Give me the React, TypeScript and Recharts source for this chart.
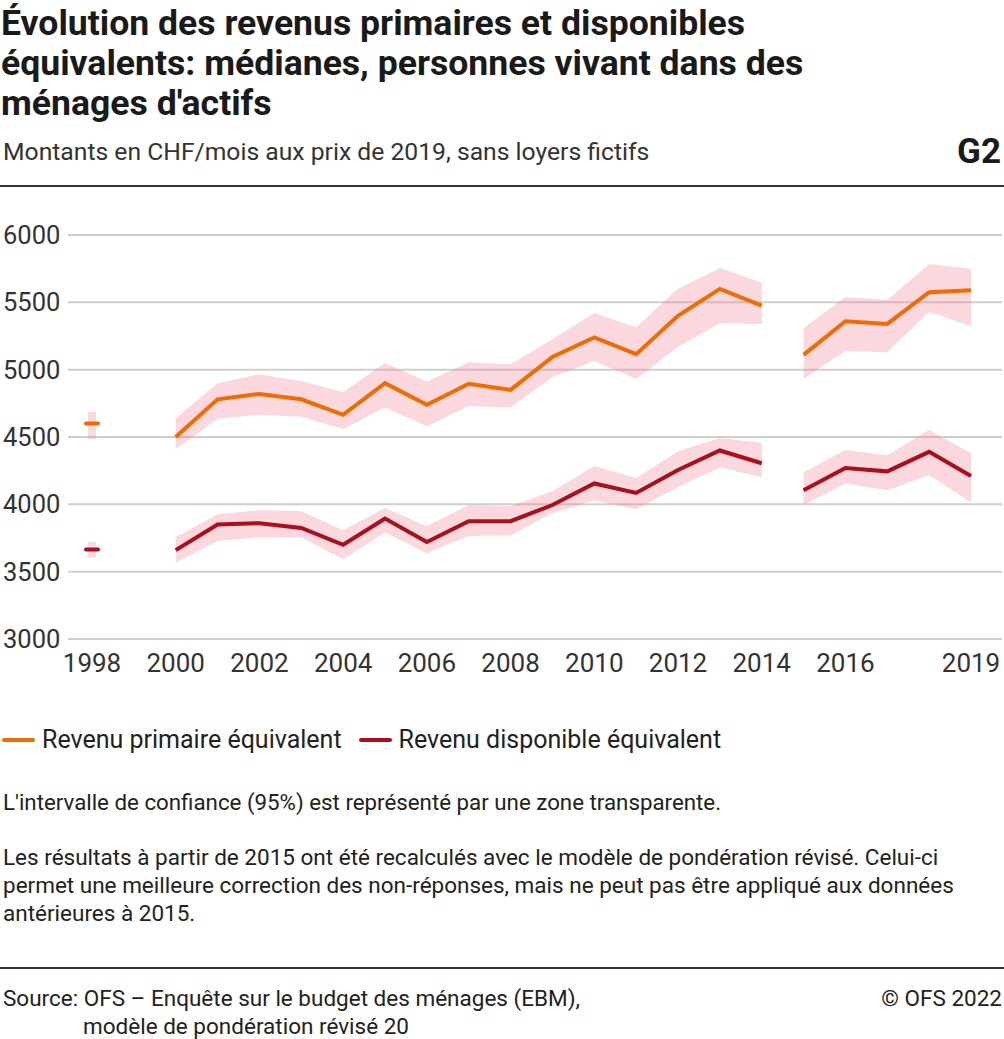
import { ComposedChart, Line, Area, Bar, XAxis, YAxis, CartesianGrid } from "recharts";

const years = [1998, 2000, 2001, 2002, 2003, 2004, 2005, 2006, 2007, 2008, 2009, 2010, 2011, 2012, 2013, 2014, 2015, 2016, 2017, 2018, 2019];

const primaire = [4600, 4500, 4780, 4820, 4780, 4665, 4900, 4740, 4895, 4850, 5095, 5240, 5115, 5400, 5600, 5475, 5110, 5360, 5340, 5575, 5590];
const primaireLow = [4485, 4410, 4635, 4665, 4650, 4560, 4720, 4580, 4730, 4720, 4945, 5065, 4930, 5170, 5345, 5340, 4930, 5140, 5130, 5430, 5325];
const primaireHigh = [4685, 4640, 4900, 4965, 4915, 4835, 5050, 4910, 5055, 5040, 5225, 5420, 5315, 5600, 5755, 5645, 5310, 5540, 5520, 5785, 5750];

const disponible = [3665, 3660, 3850, 3860, 3825, 3700, 3895, 3720, 3875, 3875, 3995, 4155, 4085, 4255, 4400, 4305, 4105, 4270, 4245, 4390, 4210];
const disponibleLow = [3607, 3570, 3728, 3756, 3756, 3593, 3793, 3637, 3764, 3771, 3935, 4031, 3964, 4128, 4276, 4202, 3994, 4157, 4105, 4217, 4016];
const disponibleHigh = [3719, 3756, 3927, 3957, 3949, 3808, 3972, 3838, 3994, 3987, 4098, 4284, 4195, 4395, 4492, 4455, 4239, 4403, 4365, 4552, 4380];

const xTicks = [1998, 2000, 2002, 2004, 2006, 2008, 2010, 2012, 2014, 2016, 2019];
const yTicks = [3000, 3500, 4000, 4500, 5000, 5500, 6000];

// series breaks: 1998 alone, 2000-2014, 2015-2019 (new weighting model)
const segmentOf = (y: number) => (y < 2000 ? 0 : y <= 2014 ? 1 : 2);

const ORANGE = "#ef6c00";
const RED = "#a90f1e";
const BAND = "#ee7d8f";
const FONT = "Roboto, 'Noto Sans', sans-serif";

const data = years.map((year, i) => {
  const s = segmentOf(year);
  const pick = (v: any, k: number) => (s === k ? v : null);
  return {
    year,
    p0: pick(primaire[i], 0),
    p1: pick(primaire[i], 1),
    p2: pick(primaire[i], 2),
    pb0: pick([primaireLow[i], primaireHigh[i]], 0),
    pb1: pick([primaireLow[i], primaireHigh[i]], 1),
    pb2: pick([primaireLow[i], primaireHigh[i]], 2),
    d0: pick(disponible[i], 0),
    d1: pick(disponible[i], 1),
    d2: pick(disponible[i], 2),
    db0: pick([disponibleLow[i], disponibleHigh[i]], 0),
    db1: pick([disponibleLow[i], disponibleHigh[i]], 1),
    db2: pick([disponibleLow[i], disponibleHigh[i]], 2),
  };
});

const dash = (color: string) => (props: any) => {
  const { cx, cy, index } = props;
  if (cx == null || cy == null) return <g key={`d-${index}`} />;
  return (
    <line key={`d-${index}`} x1={cx - 6} x2={cx + 6} y1={cy} y2={cy} stroke={color} strokeWidth={4} strokeLinecap="round" />
  );
};

const YTick = ({ y, payload }: any) => (
  <text x={3} y={y} dy={9} textAnchor="start" fontSize={25.5} fill="#333" fontFamily={FONT}>
    {payload.value}
  </text>
);

const textStyle: React.CSSProperties = { position: "absolute", left: 3, margin: 0, color: "#222", fontFamily: FONT };

export default function App() {
  return (
    <div style={{ position: "absolute", left: 0, top: 0, width: 1004, height: 1039, background: "#fff", fontFamily: FONT }}>
      <div style={{ ...textStyle, left: 1, top: 3, fontSize: 35.6, fontWeight: 700, lineHeight: "40px", color: "#1a1a1a", whiteSpace: "nowrap" }}>
        Évolution des revenus primaires et disponibles
        <br />
        équivalents: médianes, personnes vivant dans des
        <br />
        ménages d'actifs
      </div>
      <div style={{ ...textStyle, top: 137, fontSize: 24.7, color: "#333", whiteSpace: "nowrap" }}>
        Montants en CHF/mois aux prix de 2019, sans loyers fictifs
      </div>
      <div style={{ position: "absolute", right: 3, top: 131, fontSize: 35, fontWeight: 700, color: "#1a1a1a" }}>G2</div>
      <div style={{ position: "absolute", left: 0, top: 185, width: 1004, height: 2, background: "#333" }} />

      <div style={{ position: "absolute", left: 0, top: 200 }}>
        <ComposedChart width={1004} height={499} data={data} margin={{ top: 35, right: 2, bottom: 0, left: 0 }} barGap={-8}>
          <CartesianGrid horizontal vertical={false} stroke="#cfcfcf" strokeWidth={2} />
          <XAxis
            dataKey="year"
            type="number"
            domain={[1998, 2019]}
            ticks={xTicks}
            padding={{ left: 24, right: 31 }}
            axisLine={false}
            tickLine={false}
            tickSize={0}
            tickMargin={15}
            height={60}
            tick={{ fontSize: 26, fill: "#333", fontFamily: FONT }}
            interval={0}
          />
          <YAxis
            type="number"
            domain={[3000, 6000]}
            ticks={yTicks}
            axisLine={false}
            tickLine={false}
            width={68}
            tick={<YTick />}
            interval={0}
          />
          <Bar dataKey="pb0" barSize={8} fill={BAND} fillOpacity={0.3} isAnimationActive={false} />
          <Bar dataKey="db0" barSize={8} fill={BAND} fillOpacity={0.3} isAnimationActive={false} />
          <Area dataKey="pb1" stroke="none" fill={BAND} fillOpacity={0.3} isAnimationActive={false} />
          <Area dataKey="pb2" stroke="none" fill={BAND} fillOpacity={0.3} isAnimationActive={false} />
          <Area dataKey="db1" stroke="none" fill={BAND} fillOpacity={0.3} isAnimationActive={false} />
          <Area dataKey="db2" stroke="none" fill={BAND} fillOpacity={0.3} isAnimationActive={false} />
          <Line dataKey="p0" stroke="none" dot={dash(ORANGE)} activeDot={false} isAnimationActive={false} />
          <Line dataKey="d0" stroke="none" dot={dash(RED)} activeDot={false} isAnimationActive={false} />
          <Line dataKey="p1" stroke={ORANGE} strokeWidth={4} dot={false} activeDot={false} isAnimationActive={false} />
          <Line dataKey="p2" stroke={ORANGE} strokeWidth={4} dot={false} activeDot={false} isAnimationActive={false} />
          <Line dataKey="d1" stroke={RED} strokeWidth={4} dot={false} activeDot={false} isAnimationActive={false} />
          <Line dataKey="d2" stroke={RED} strokeWidth={4} dot={false} activeDot={false} isAnimationActive={false} />
        </ComposedChart>
      </div>

      <div style={{ position: "absolute", left: 2, top: 725, display: "flex", alignItems: "center", fontSize: 25, color: "#222", whiteSpace: "nowrap" }}>
        <span style={{ display: "inline-block", width: 33, height: 4, borderRadius: 2, background: ORANGE, marginRight: 7 }} />
        <span>Revenu primaire équivalent</span>
        <span style={{ display: "inline-block", width: 33, height: 4, borderRadius: 2, background: RED, marginLeft: 17, marginRight: 7 }} />
        <span>Revenu disponible équivalent</span>
      </div>

      <div style={{ ...textStyle, top: 789, fontSize: 22.3, color: "#222", whiteSpace: "nowrap" }}>
        L'intervalle de confiance (95%) est représenté par une zone transparente.
      </div>
      <div style={{ ...textStyle, top: 843, fontSize: 22.5, lineHeight: "28px", color: "#222", whiteSpace: "nowrap" }}>
        Les résultats à partir de 2015 ont été recalculés avec le modèle de pondération révisé. Celui-ci
        <br />
        permet une meilleure correction des non-réponses, mais ne peut pas être appliqué aux données
        <br />
        antérieures à 2015.
      </div>

      <div style={{ position: "absolute", left: 0, top: 967, width: 1004, height: 2, background: "#333" }} />
      <div style={{ ...textStyle, top: 984, fontSize: 22.5, lineHeight: "28px", color: "#222", whiteSpace: "nowrap" }}>
        <div>Source: OFS – Enquête sur le budget des ménages (EBM),</div>
        <div style={{ paddingLeft: 80 }}>modèle de pondération révisé 20</div>
      </div>
      <div style={{ position: "absolute", right: 2, top: 984, fontSize: 22.5, lineHeight: "28px", color: "#222" }}>© OFS 2022</div>
    </div>
  );
}
